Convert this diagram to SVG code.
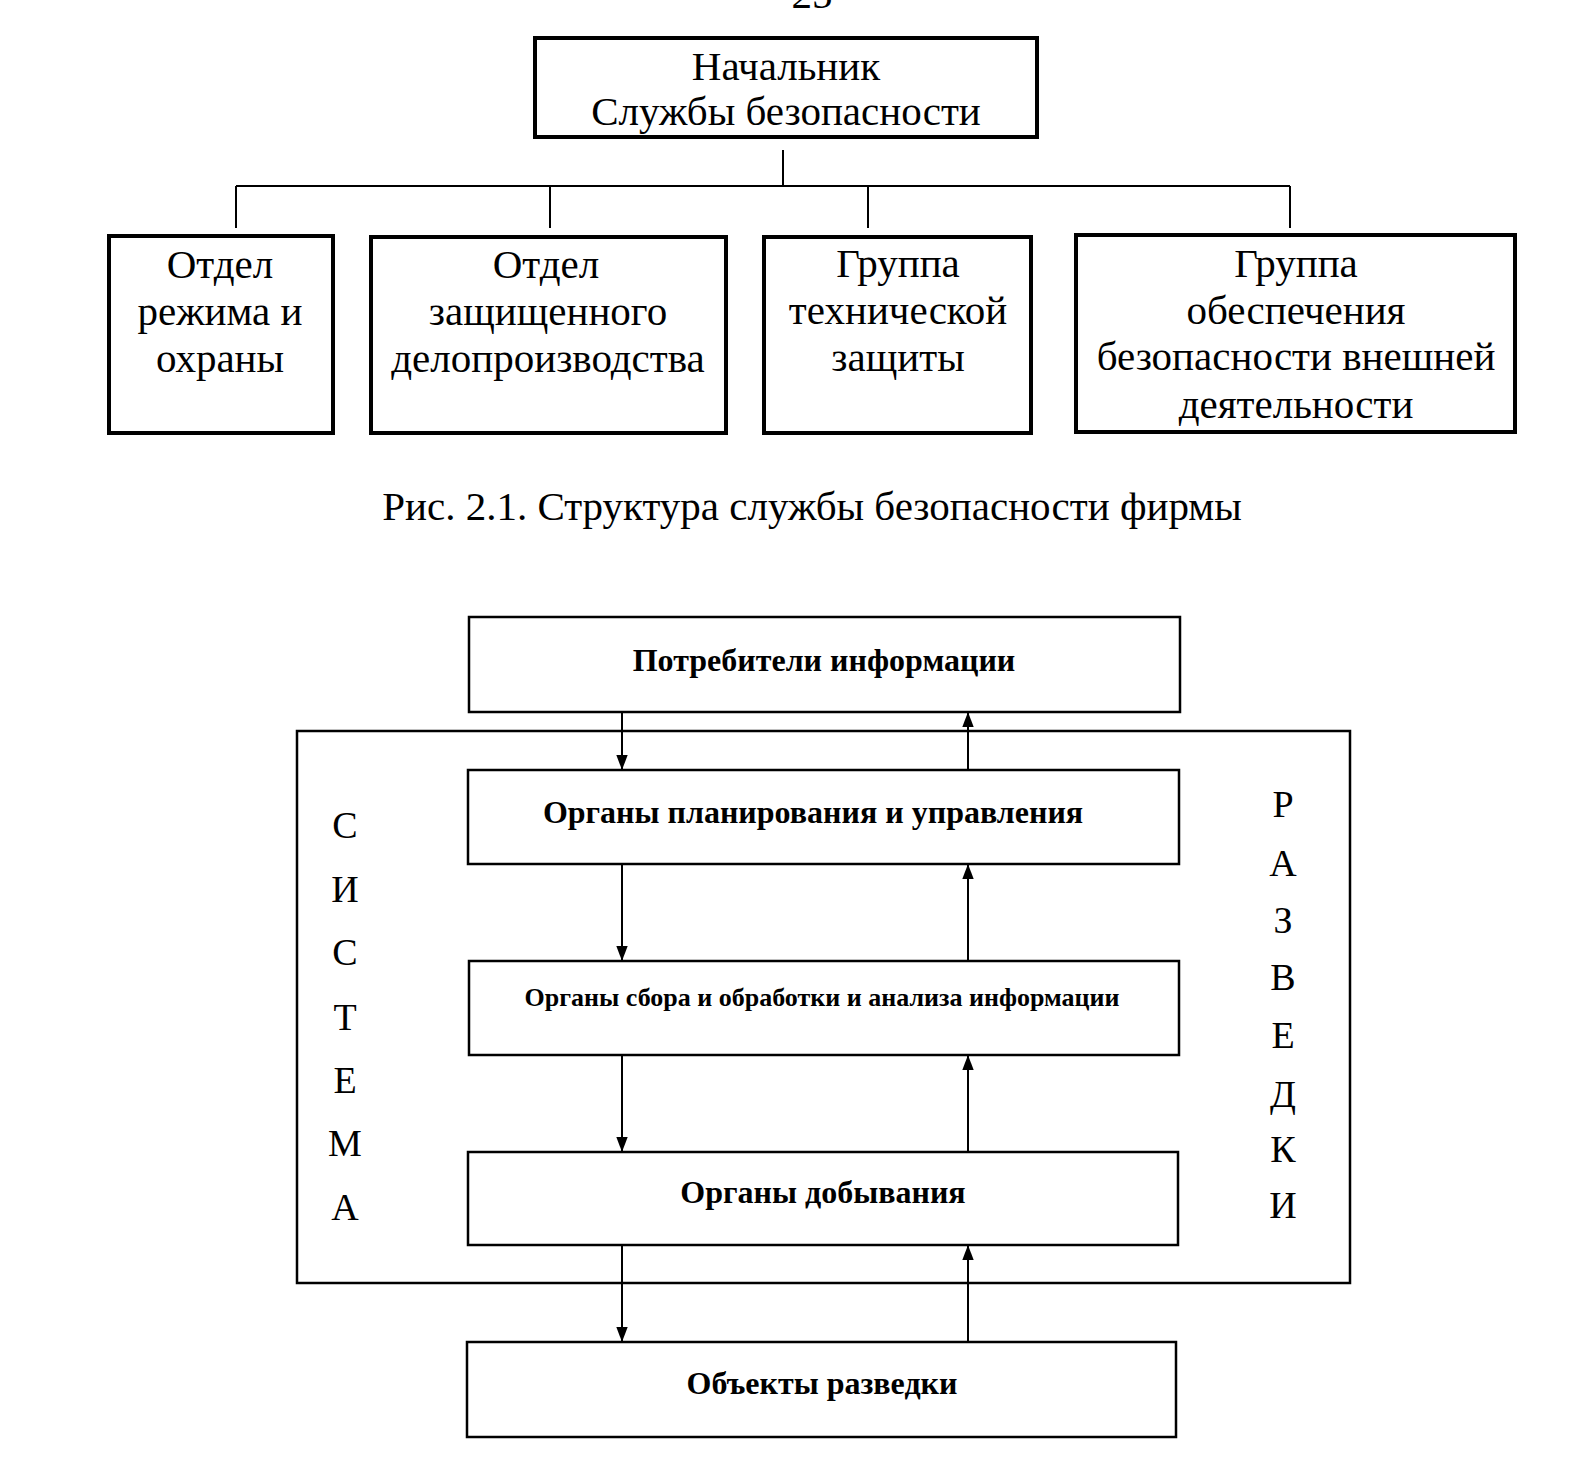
<svg xmlns="http://www.w3.org/2000/svg" width="1593" height="1470" viewBox="0 0 1593 1470">
<style>
.bg{fill:#fff}
.b1{fill:#fff;stroke:#000;stroke-width:4}
.b2{fill:#fff;stroke:#000;stroke-width:2.5}
.ln{fill:none;stroke:#000;stroke-width:2}
.ar{fill:none;stroke:#000;stroke-width:2}
.t1{font-family:"Liberation Serif","Times New Roman",serif;font-size:41px;fill:#000;text-anchor:middle}
.t2{font-family:"Liberation Serif","Times New Roman",serif;font-size:32px;font-weight:bold;fill:#000;text-anchor:middle}
.t3{font-family:"Liberation Serif","Times New Roman",serif;font-size:26px;font-weight:bold;fill:#000;text-anchor:middle}
.t4{font-family:"Liberation Serif","Times New Roman",serif;font-size:38px;fill:#000;text-anchor:middle}
</style>
<defs>
<marker id="ah" viewBox="0 0 10 10" refX="10" refY="5" markerWidth="15" markerHeight="15" markerUnits="userSpaceOnUse" orient="auto">
<path d="M0,1.2 L10,5 L0,8.8 Z" fill="#000"/>
</marker>
</defs>
<rect class="bg" x="0" y="0" width="1593" height="1470"/>
<text class="t1" x="812" y="8">25</text>

<g id="chief">
<rect class="b1" x="535" y="38" width="502" height="99"/>
<text class="t1" x="786" y="80">Начальник</text>
<text class="t1" x="786" y="125">Службы безопасности</text>
</g>

<g id="tree-connectors">
<path class="ln" d="M783,150 V186 M236,186 H1290 M236,186 V228 M550,186 V228 M868,186 V228 M1290,186 V228"/>
</g>

<g id="dept1">
<rect class="b1" x="109" y="236" width="224" height="197"/>
<text class="t1" x="220" y="278">Отдел</text>
<text class="t1" x="220" y="325">режима и</text>
<text class="t1" x="220" y="372">охраны</text>
</g>
<g id="dept2">
<rect class="b1" x="371" y="237" width="355" height="196"/>
<text class="t1" x="546" y="278">Отдел</text>
<text class="t1" x="548" y="325">защищенного</text>
<text class="t1" x="548" y="372">делопроизводства</text>
</g>
<g id="group1">
<rect class="b1" x="764" y="237" width="267" height="196"/>
<text class="t1" x="898" y="277">Группа</text>
<text class="t1" x="898" y="324">технической</text>
<text class="t1" x="898" y="371">защиты</text>
</g>
<g id="group2">
<rect class="b1" x="1076" y="235" width="439" height="197"/>
<text class="t1" x="1296" y="277">Группа</text>
<text class="t1" x="1296" y="324">обеспечения</text>
<text class="t1" x="1296" y="370">безопасности внешней</text>
<text class="t1" x="1296" y="418">деятельности</text>
</g>

<text class="t1" x="812" y="520">Рис. 2.1. Структура службы безопасности фирмы</text>

<g id="system-frame">
<rect class="b2" x="297" y="731" width="1053" height="552"/>
<text class="t4" x="345" y="838">С</text>
<text class="t4" x="345" y="902">И</text>
<text class="t4" x="345" y="965">С</text>
<text class="t4" x="345" y="1030">Т</text>
<text class="t4" x="345" y="1093">Е</text>
<text class="t4" x="345" y="1156">М</text>
<text class="t4" x="345" y="1220">А</text>
<text class="t4" x="1283" y="817">Р</text>
<text class="t4" x="1283" y="876">А</text>
<text class="t4" x="1283" y="933">З</text>
<text class="t4" x="1283" y="990">В</text>
<text class="t4" x="1283" y="1048">Е</text>
<text class="t4" x="1283" y="1107">Д</text>
<text class="t4" x="1283" y="1162">К</text>
<text class="t4" x="1283" y="1218">И</text>
</g>

<g id="consumers">
<rect class="b2" x="469" y="617" width="711" height="95"/>
<text class="t2" x="824" y="671">Потребители информации</text>
</g>
<g id="planning">
<rect class="b2" x="468" y="770" width="711" height="94"/>
<text class="t2" x="813" y="823">Органы планирования и управления</text>
</g>
<g id="processing">
<rect class="b2" x="469" y="961" width="710" height="94"/>
<text class="t3" x="822" y="1006">Органы сбора и обработки и анализа информации</text>
</g>
<g id="acquisition">
<rect class="b2" x="468" y="1152" width="710" height="93"/>
<text class="t2" x="823" y="1203">Органы добывания</text>
</g>
<g id="objects">
<rect class="b2" x="467" y="1342" width="709" height="95"/>
<text class="t2" x="822" y="1394">Объекты разведки</text>
</g>

<g id="connectors">
<line class="ar" x1="622" y1="712" x2="622" y2="770" marker-end="url(#ah)"/>
<line class="ar" x1="968" y1="770" x2="968" y2="712" marker-end="url(#ah)"/>
<line class="ar" x1="622" y1="864" x2="622" y2="961" marker-end="url(#ah)"/>
<line class="ar" x1="968" y1="961" x2="968" y2="864" marker-end="url(#ah)"/>
<line class="ar" x1="622" y1="1055" x2="622" y2="1152" marker-end="url(#ah)"/>
<line class="ar" x1="968" y1="1152" x2="968" y2="1055" marker-end="url(#ah)"/>
<line class="ar" x1="622" y1="1245" x2="622" y2="1342" marker-end="url(#ah)"/>
<line class="ar" x1="968" y1="1342" x2="968" y2="1245" marker-end="url(#ah)"/>
</g>
</svg>
